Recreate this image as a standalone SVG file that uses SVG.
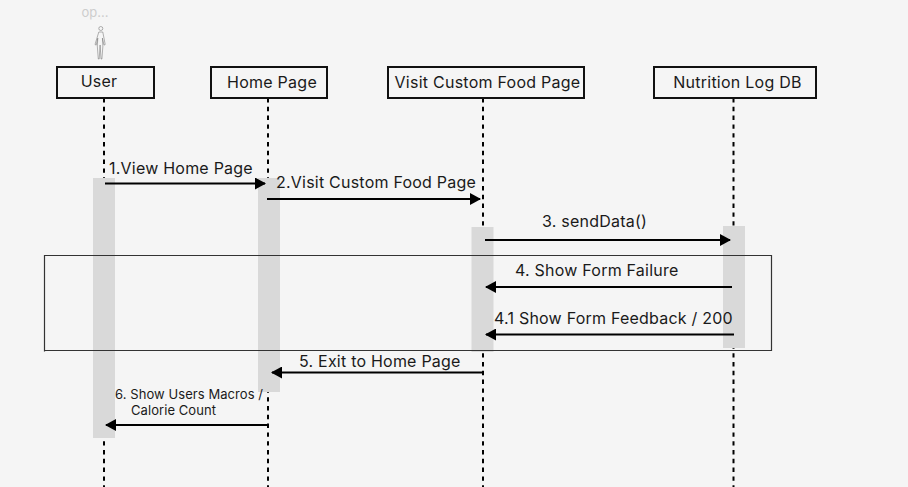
<svg xmlns="http://www.w3.org/2000/svg" width="908" height="487" viewBox="0 0 908 487">
<style>
text{font-family:Inter,"Liberation Sans",sans-serif;fill:#1a1a1a}
.head{font-size:16px;text-anchor:middle;letter-spacing:.25px}
.msg{font-size:16px;letter-spacing:.22px}
.small{font-size:13px;letter-spacing:.07px}
.box{fill:#f5f5f5;stroke:#111;stroke-width:2}
.life{stroke:#000;stroke-width:2;stroke-dasharray:4.400 4.400;fill:none}
.bar{fill:#d9d9d9}
.arrow{stroke:#000;stroke-width:2;fill:none;marker-end:url(#ah)}
</style>
<defs><marker id="ah" markerUnits="userSpaceOnUse" markerWidth="12" markerHeight="12" refX="10" refY="6" orient="auto"><path d="M0 0L11 6L0 12Z" fill="#000"/></marker></defs>
<rect width="908" height="487" fill="#f5f5f5"/>
<g id="lifelines">
<path class="life" d="M104 98V487"/>
<path class="life" d="M268 98V487"/>
<path class="life" d="M483 98V487"/>
<path class="life" d="M733.500 98V487"/>
</g>
<g id="activations">
<rect class="bar" x="93" y="178" width="22" height="260"/>
<rect class="bar" x="258" y="178" width="22" height="214"/>
<rect class="bar" x="471.500" y="227" width="22" height="125"/>
<rect class="bar" x="723" y="226" width="22" height="122"/>
</g>
<g id="frame"><path d="M44.500 351.500V255.500H771.500V350.500H44" fill="none" stroke="#333" stroke-width="1.200"/></g>
<g id="actor">
<text x="95" y="17" font-size="13" text-anchor="middle" style="fill:#cdcdcd">op...</text>
<g fill="none" stroke="#666" stroke-width=".5"><circle cx="100.800" cy="28.500" r="2"/><path d="M98.800 32h4l2.400 12.500-1.200.6-1.600-7 .5 7.900-1 13h-.9l-.9-14-.9 14h-.9l-1-13 .5-7.900-1.600 7-1.200-.6z"/></g>
</g>
<g id="node-user"><rect class="box" x="57" y="67" width="97" height="31"/><text class="head" x="99" y="87">User</text></g>
<g id="node-home"><rect class="box" x="211" y="67" width="116" height="31"/><text class="head" x="272" y="88">Home Page</text></g>
<g id="node-visit"><rect class="box" x="388" y="67" width="196" height="31"/><text class="head" x="487.500" y="88">Visit Custom Food Page</text></g>
<g id="node-db"><rect class="box" x="654" y="67" width="162" height="31"/><text class="head" x="737.500" y="88">Nutrition Log DB</text></g>
<g id="connectors">
<path class="arrow" d="M105 183.500H265"/>
<path class="arrow" d="M267 199H480"/>
<path class="arrow" d="M485 240H730"/>
<path class="arrow" d="M732 287H486"/>
<path class="arrow" d="M734 334.500H486"/>
<path class="arrow" d="M484 372.500H272"/>
<path class="arrow" d="M267 425H106"/>
</g>
<g id="labels">
<text class="msg" x="109" y="174">1.View Home Page</text>
<text class="msg" x="276" y="188">2.Visit Custom Food Page</text>
<text class="msg" x="542" y="227">3. sendData()</text>
<text class="msg" x="515" y="276">4. Show Form Failure</text>
<text class="msg" x="494" y="324">4.1 Show Form Feedback / 200</text>
<text class="msg" x="299" y="367">5. Exit to Home Page</text>
<text class="small" x="115" y="399">6. Show Users Macros /</text>
<text class="small" x="131" y="415">Calorie Count</text>
</g>
</svg>
